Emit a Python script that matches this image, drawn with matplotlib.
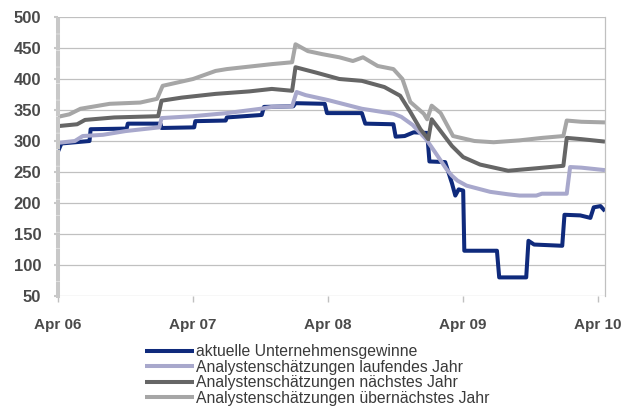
import matplotlib
matplotlib.use("Agg")
import matplotlib.pyplot as plt

plt.rcParams['font.family'] = ['Liberation Sans', 'DejaVu Sans']

# x values: months since April 2006
tick_pos = [0, 12, 24, 36, 48]
tick_labels = ["Apr 06", "Apr 07", "Apr 08", "Apr 09", "Apr 10"]

labels = ["aktuelle Unternehmensgewinne",
          "Analystenschätzungen laufendes Jahr",
          "Analystenschätzungen nächstes Jahr",
          "Analystenschätzungen übernächstes Jahr"]

gewinne_x = [0, 0.3, 2.8, 2.9, 6.1, 6.2, 9.1, 9.2, 12.1, 12.2, 14.9, 15.0, 18.1, 18.3, 20.9, 21.1,
             23.7, 23.9, 27.0, 27.3, 29.8, 30.0, 30.8, 31.6, 32.8, 33.0, 34.4, 35.0, 35.3, 35.6,
             36.0, 36.1, 39.0, 39.2, 41.6, 41.8, 42.3, 44.8, 45.0, 46.4, 47.3, 47.6, 48.2, 48.6]
gewinne_y = [283, 296, 300, 319, 320, 328, 328, 321, 322, 332, 333, 338, 342, 355, 356, 361,
             360, 345, 345, 328, 327, 307, 308, 314, 313, 267, 266, 232, 212, 222,
             220, 123, 123, 80, 80, 139, 133, 131, 181, 180, 176, 193, 195, 187]

laufend_x = [0, 1.5, 2.2, 4, 6, 7, 9.0, 9.2, 12, 15, 18, 19, 20.8, 21.2, 22, 24, 27, 29.8, 30.5,
             31.5, 32.7, 33.5, 34.5, 35, 35.5, 36.3, 38.4, 40, 41, 42.5, 43, 45.2, 45.5, 46.5, 48.6]
laufend_y = [297, 300, 308, 310, 316, 318, 322, 337, 340, 345, 352, 355, 356, 379, 374, 366, 352, 344, 339,
             326, 303, 282, 255, 244, 236, 228, 218, 214, 212, 212, 215, 215, 258, 257, 253]

naechst_x = [0, 1.7, 2.4, 5, 8.9, 9.2, 11, 14, 17, 19, 20.8, 21.1, 23, 25, 27, 29, 30.4, 31.3,
             32.2, 32.9, 33.2, 35, 36, 37.5, 40, 42.5, 44.9, 45.2, 46.5, 48.6]
naechst_y = [324, 327, 334, 338, 340, 365, 370, 376, 380, 384, 381, 419, 410, 400, 397, 387, 373, 347,
             319, 303, 335, 292, 274, 262, 252, 256, 260, 305, 303, 299]

uebern_x = [0, 1, 2, 4.6, 7.3, 8.8, 9.3, 12, 14, 15, 17, 19, 20.8, 21.1, 22.2, 23.5, 25, 26.2, 27.1,
            28.4, 29.8, 30.6, 31.3, 32.5, 32.8, 33.2, 34, 35.1, 37, 38.7, 41, 43, 44.9, 45.2, 46.5, 48.6]
uebern_y = [339, 343, 352, 360, 362, 368, 389, 400, 413, 416, 420, 424, 427, 456, 445, 440, 435, 429, 435,
            421, 416, 400, 363, 344, 335, 357, 345, 308, 300, 298, 301, 305, 308, 333, 331, 330]

series = [(gewinne_x, gewinne_y, "#0f2a7c"),
          (laufend_x, laufend_y, "#a8a8cc"),
          (naechst_x, naechst_y, "#666666"),
          (uebern_x, uebern_y, "#a6a6a6")]

fig = plt.figure(figsize=(6.4, 4.07), dpi=100)
ax = fig.add_axes([58/640, 1-296/407, (605-58)/640, (296-17)/407])

for (xs, ys, c), lab in zip(series, labels):
    ax.plot(xs, ys, color=c, lw=2.9, solid_joinstyle='round', solid_capstyle='butt', label=lab)

ax.set_xlim(0, 48.6)
ax.set_ylim(50, 500)
ax.set_yticks(range(50, 501, 50))
ax.set_xticks(tick_pos)
ax.set_xticklabels(tick_labels)
ax.grid(axis='y', color='#c0c0c0', lw=0.9)
ax.set_axisbelow(True)

for s in ['top', 'bottom']:
    ax.spines[s].set_visible(False)
ax.spines['right'].set_color('#c0c0c0')
ax.spines['right'].set_linewidth(0.9)
ax.spines['left'].set_color('#c8c8c8')
ax.spines['left'].set_linewidth(2.9)
ax.spines['left'].set_linestyle((0, (3, 1.1)))

ax.tick_params(axis='y', length=3, width=1.5, color='#c8c8c8', pad=9,
               labelsize=12, labelcolor='#4a4a4a')
ax.tick_params(axis='x', length=4, width=1, color='#c0c0c0', pad=12,
               labelsize=11, labelcolor='#4a4a4a')
for t in ax.get_yticklabels() + ax.get_xticklabels():
    t.set_fontweight('bold')

leg = fig.legend(loc='upper left', bbox_to_anchor=(145/640, 1-344/407), frameon=False,
                 fontsize=11.3, handlelength=3.1, handletextpad=0.12, labelspacing=0.04,
                 borderpad=0, borderaxespad=0)
for t in leg.get_texts():
    t.set_color('#3a3a3a')

fig.savefig("out.png", dpi=100)
